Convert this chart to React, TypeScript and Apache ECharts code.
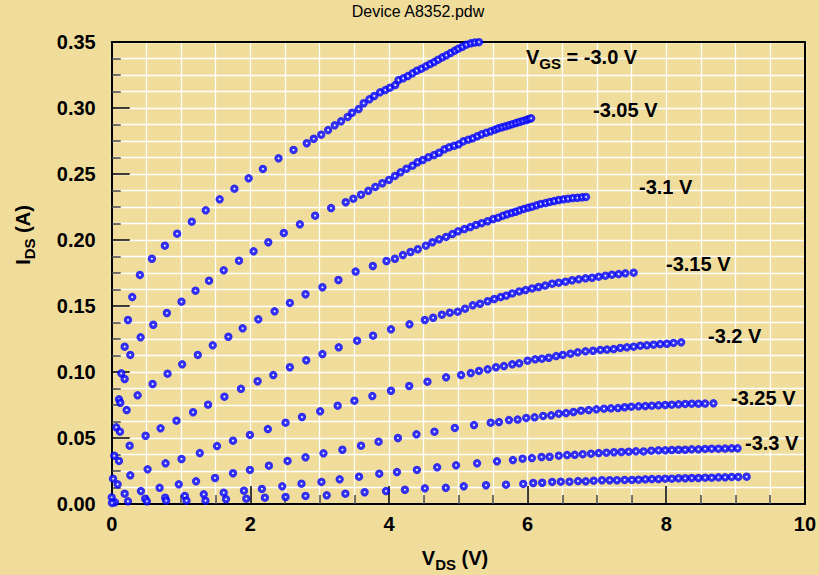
import React, { useEffect, useRef } from "react";
import * as echarts from "echarts";

// Each curve: [V_DS (V), I_DS (A)]
const curveVgs300: number[][] = [
  [0.187, 0.1192], [0.235, 0.1394], [0.296, 0.1568], [0.407, 0.1735], [0.58, 0.1858], [0.767, 0.1957],
  [0.944, 0.2048], [1.155, 0.2139], [1.357, 0.2225], [1.558, 0.2308], [1.77, 0.2389], [1.976, 0.2467],
  [2.181, 0.2538], [2.407, 0.2619], [2.623, 0.2682], [2.814, 0.2733], [2.915, 0.2767], [3.022, 0.2798],
  [3.122, 0.2833], [3.217, 0.2869], [3.309, 0.2899], [3.404, 0.2932], [3.468, 0.2964], [3.563, 0.2992],
  [3.635, 0.3036], [3.717, 0.3066], [3.788, 0.3091], [3.871, 0.3119], [3.947, 0.3136], [4.014, 0.3154],
  [4.091, 0.3174], [4.138, 0.3212], [4.206, 0.3225], [4.273, 0.3242], [4.34, 0.3263], [4.403, 0.3283],
  [4.469, 0.3298], [4.532, 0.3316], [4.594, 0.3333], [4.652, 0.3348], [4.709, 0.3366], [4.771, 0.3384],
  [4.829, 0.3399], [4.892, 0.3417], [4.95, 0.3434], [5.001, 0.3449], [5.059, 0.3464], [5.117, 0.348],
  [5.18, 0.349], [5.237, 0.3496], [5.299, 0.3499],
];
const curveVgs305: number[][] = [
  [0.138, 0.099], [0.187, 0.0947], [0.268, 0.1129], [0.417, 0.1263], [0.599, 0.1358], [0.796, 0.1447],
  [1.007, 0.1533], [1.209, 0.1616], [1.404, 0.1692], [1.616, 0.177], [1.836, 0.1843], [2.047, 0.1914],
  [2.259, 0.1983], [2.483, 0.2053], [2.715, 0.2119], [2.935, 0.2184], [3.165, 0.2242], [3.376, 0.2286],
  [3.486, 0.2313], [3.597, 0.2343], [3.702, 0.2373], [3.803, 0.2402], [3.904, 0.243], [4.0, 0.2455],
  [4.086, 0.2485], [4.167, 0.2513], [4.253, 0.254], [4.34, 0.2563], [4.412, 0.2589], [4.489, 0.2606],
  [4.57, 0.2627], [4.652, 0.2644], [4.724, 0.2661], [4.8, 0.2687], [4.868, 0.2702], [4.94, 0.2714],
  [5.007, 0.2725], [5.073, 0.2748], [5.145, 0.276], [5.209, 0.277], [5.275, 0.2786], [5.338, 0.2801],
  [5.404, 0.2813], [5.468, 0.2823], [5.529, 0.2836], [5.577, 0.2846], [5.63, 0.2854], [5.681, 0.2861],
  [5.731, 0.2869], [5.781, 0.2877], [5.832, 0.2886], [5.882, 0.2894], [5.932, 0.2902], [5.983, 0.2909],
  [6.019, 0.2917], [6.052, 0.2922],
];
const curveVgs310: number[][] = [
  [0.105, 0.0793], [0.124, 0.0767], [0.216, 0.0712], [0.374, 0.0823], [0.59, 0.0909], [0.806, 0.0987],
  [1.016, 0.1058], [1.242, 0.1129], [1.458, 0.1202], [1.683, 0.1267], [1.889, 0.1331], [2.115, 0.1399],
  [2.35, 0.146], [2.57, 0.1523], [2.796, 0.1589], [3.04, 0.1642], [3.271, 0.1697], [3.519, 0.1761],
  [3.767, 0.1803], [3.964, 0.1841], [4.086, 0.1858], [4.201, 0.1886], [4.311, 0.1909], [4.417, 0.193],
  [4.532, 0.1957], [4.627, 0.1983], [4.724, 0.2005], [4.824, 0.2023], [4.915, 0.2045], [4.997, 0.2066],
  [5.088, 0.2083], [5.174, 0.2098], [5.256, 0.2114], [5.338, 0.2127], [5.424, 0.2142], [5.505, 0.2159],
  [5.577, 0.2169], [5.645, 0.2184], [5.706, 0.2195], [5.77, 0.2205], [5.827, 0.2214], [5.885, 0.2225],
  [5.947, 0.2235], [6.009, 0.2245], [6.066, 0.2252], [6.129, 0.2263], [6.191, 0.2273], [6.259, 0.228],
  [6.321, 0.2288], [6.383, 0.2295], [6.45, 0.2303], [6.518, 0.2308], [6.584, 0.2313], [6.652, 0.2318],
  [6.719, 0.232], [6.786, 0.2323], [6.843, 0.2326],
];
const curveVgs315: number[][] = [
  [0.066, 0.0581], [0.119, 0.0548], [0.259, 0.0442], [0.489, 0.0517], [0.705, 0.0573], [0.935, 0.0631],
  [1.174, 0.0695], [1.39, 0.0752], [1.626, 0.0813], [1.865, 0.0873], [2.105, 0.093], [2.331, 0.0977],
  [2.57, 0.1036], [2.806, 0.1089], [3.04, 0.1136], [3.275, 0.1187], [3.54, 0.1237], [3.77, 0.1275],
  [4.029, 0.1323], [4.296, 0.1361], [4.518, 0.1394], [4.637, 0.1411], [4.763, 0.1434], [4.878, 0.1449],
  [4.993, 0.1457], [5.098, 0.148], [5.209, 0.1505], [5.314, 0.1517], [5.424, 0.1536], [5.519, 0.1553],
  [5.612, 0.1568], [5.692, 0.1578], [5.778, 0.1595], [5.879, 0.161], [5.971, 0.1621], [6.065, 0.1633],
  [6.158, 0.1644], [6.253, 0.1655], [6.354, 0.1669], [6.45, 0.1677], [6.547, 0.1684], [6.642, 0.1695],
  [6.738, 0.1702], [6.835, 0.171], [6.93, 0.1714], [7.026, 0.1722], [7.122, 0.173], [7.217, 0.1737],
  [7.314, 0.1742], [7.41, 0.1748], [7.53, 0.1752],
];
const curveVgs320: number[][] = [
  [0.037, 0.0366], [0.105, 0.0326], [0.268, 0.0217], [0.518, 0.0263], [0.777, 0.0308], [1.007, 0.0341],
  [1.271, 0.0386], [1.519, 0.0439], [1.75, 0.048], [1.994, 0.0523], [2.253, 0.0568], [2.508, 0.0616],
  [2.745, 0.0659], [3.007, 0.0702], [3.26, 0.0745], [3.501, 0.0783], [3.76, 0.0818], [4.029, 0.0858],
  [4.292, 0.0894], [4.555, 0.0927], [4.824, 0.096], [5.04, 0.0977], [5.18, 0.0992], [5.299, 0.1008],
  [5.424, 0.102], [5.544, 0.1036], [5.659, 0.1045], [5.778, 0.1058], [5.879, 0.1066], [6.0, 0.1086],
  [6.109, 0.1096], [6.206, 0.1101], [6.306, 0.1108], [6.412, 0.1121], [6.508, 0.1129], [6.619, 0.1139],
  [6.724, 0.1149], [6.835, 0.1157], [6.944, 0.1161], [7.05, 0.1167], [7.145, 0.117], [7.242, 0.1174],
  [7.338, 0.1182], [7.433, 0.1187], [7.529, 0.1192], [7.626, 0.1199], [7.721, 0.1202], [7.817, 0.1207],
  [7.914, 0.1212], [8.009, 0.1214], [8.105, 0.122], [8.216, 0.1225],
];
const curveVgs325: number[][] = [
  [0.019, 0.0192], [0.086, 0.0149], [0.187, 0.0078], [0.422, 0.0098], [0.691, 0.0123], [0.968, 0.0149],
  [1.217, 0.0172], [1.491, 0.0197], [1.75, 0.0233], [1.994, 0.0258], [2.268, 0.029], [2.537, 0.0326],
  [2.796, 0.0354], [3.055, 0.0384], [3.328, 0.0411], [3.597, 0.0442], [3.85, 0.0472], [4.129, 0.05],
  [4.397, 0.0528], [4.656, 0.0548], [4.95, 0.0576], [5.227, 0.0598], [5.468, 0.0616], [5.587, 0.0621],
  [5.731, 0.0636], [5.856, 0.064], [5.98, 0.0652], [6.101, 0.0657], [6.224, 0.0667], [6.34, 0.0672],
  [6.45, 0.0684], [6.555, 0.0689], [6.662, 0.0697], [6.771, 0.0707], [6.882, 0.0712], [6.993, 0.0717],
  [7.102, 0.0722], [7.203, 0.0725], [7.304, 0.0727], [7.4, 0.0733], [7.496, 0.0737], [7.601, 0.074],
  [7.698, 0.0742], [7.793, 0.0745], [7.889, 0.0748], [7.986, 0.075], [8.081, 0.0752], [8.177, 0.0755],
  [8.273, 0.0758], [8.368, 0.076], [8.465, 0.076], [8.561, 0.0761], [8.681, 0.0763],
];
const curveVgs330: number[][] = [
  [0.0, 0.0051], [0.047, 0.0013], [0.235, 0.002], [0.483, 0.004], [0.771, 0.0048], [1.055, 0.0061],
  [1.328, 0.0073], [1.616, 0.0086], [1.908, 0.0101], [2.167, 0.0114], [2.46, 0.0134], [2.738, 0.0154],
  [3.026, 0.0167], [3.289, 0.0187], [3.568, 0.0207], [3.86, 0.023], [4.115, 0.0242], [4.403, 0.0258],
  [4.695, 0.0278], [4.968, 0.0293], [5.271, 0.0308], [5.558, 0.0323], [5.788, 0.0333], [5.928, 0.0343],
  [6.062, 0.0348], [6.201, 0.0356], [6.317, 0.0358], [6.45, 0.0366], [6.57, 0.0371], [6.681, 0.0373],
  [6.796, 0.0377], [6.915, 0.0381], [7.026, 0.0386], [7.137, 0.0389], [7.246, 0.0392], [7.353, 0.0394],
  [7.458, 0.0396], [7.563, 0.0399], [7.673, 0.0398], [7.784, 0.0404], [7.889, 0.0407], [7.986, 0.0407],
  [8.081, 0.0409], [8.177, 0.0411], [8.273, 0.0411], [8.368, 0.0414], [8.465, 0.0414], [8.561, 0.0417],
  [8.656, 0.0419], [8.753, 0.0419], [8.849, 0.042], [8.944, 0.0422], [9.03, 0.0422],
];
const curveLowest: number[][] = [
  [0.004, 0.0008], [0.508, 0.002], [0.786, 0.0025], [1.079, 0.0025], [1.353, 0.0025], [1.649, 0.0036],
  [1.942, 0.004], [2.21, 0.0048], [2.508, 0.0053], [2.796, 0.0061], [3.102, 0.0066], [3.371, 0.0078],
  [3.649, 0.0089], [3.957, 0.0098], [4.23, 0.0108], [4.518, 0.0119], [4.82, 0.0123], [5.079, 0.0134],
  [5.4, 0.0142], [5.688, 0.0146], [5.937, 0.0152], [6.081, 0.0159], [6.21, 0.0161], [6.354, 0.0167],
  [6.479, 0.0169], [6.604, 0.0169], [6.728, 0.0174], [6.839, 0.0172], [6.954, 0.0177], [7.073, 0.018],
  [7.184, 0.018], [7.289, 0.018], [7.4, 0.0182], [7.505, 0.0182], [7.601, 0.0184], [7.698, 0.0187],
  [7.793, 0.0189], [7.889, 0.0189], [7.986, 0.0192], [8.081, 0.0192], [8.177, 0.0195], [8.273, 0.0195],
  [8.368, 0.0197], [8.465, 0.0197], [8.561, 0.0199], [8.656, 0.0199], [8.753, 0.0202], [8.849, 0.0202],
  [8.944, 0.0205], [9.04, 0.0205], [9.16, 0.0207],
];

const curves = [curveVgs300, curveVgs305, curveVgs310, curveVgs315, curveVgs320, curveVgs325, curveVgs330, curveLowest];
const curveNames = ["-3.0 V", "-3.05 V", "-3.1 V", "-3.15 V", "-3.2 V", "-3.25 V", "-3.3 V", "lowest"];
const curveLabels = ["-3.05 V", "-3.1 V", "-3.15 V", "-3.2 V", "-3.25 V", "-3.3 V"];

const titleText = "Device A8352.pdw";
const FONT = '"Liberation Sans", Arial, Helvetica, sans-serif';
const BG = "#F0DD9C";

export default function App() {
  const ref = useRef<HTMLDivElement>(null);
  useEffect(() => {
    if (!ref.current) return;
    const chart = echarts.init(ref.current, undefined, { renderer: "svg" });

    const labelPos = [
      [593, 110], [639, 187], [666, 264], [708, 336], [731, 398], [745, 443],
    ];
    const richMain = {
      m: { fontSize: 20, fontWeight: "bold", fontFamily: FONT, fill: "#000", lineHeight: 28 },
      s: { fontSize: 15, fontWeight: "bold", fontFamily: FONT, fill: "#000", lineHeight: 14, verticalAlign: "bottom" },
    };

    const graphic: any[] = [
      {
        type: "text",
        z: 100,
        x: 418,
        y: 11,
        style: { text: titleText, fontSize: 16, fontFamily: FONT, fill: "#000", align: "center", verticalAlign: "middle" },
      },
      {
        type: "text",
        z: 100,
        x: 526,
        y: 57,
        style: { text: "{m|V}{s|GS}{m| = -3.0 V}", rich: richMain, align: "left", verticalAlign: "middle" },
      },
      ...curveLabels.map((t, i) => ({
        type: "text",
        z: 100,
        x: labelPos[i][0],
        y: labelPos[i][1],
        style: { text: t, fontSize: 20, fontWeight: "bold", fontFamily: FONT, fill: "#000", align: "left", verticalAlign: "middle" },
      })),
      {
        type: "text",
        z: 100,
        x: 455,
        y: 558,
        style: { text: "{m|V}{s|DS}{m| (V)}", rich: richMain, align: "center", verticalAlign: "middle" },
      },
      {
        type: "text",
        z: 100,
        x: 23,
        y: 235,
        rotation: Math.PI / 2,
        style: { text: "{m|I}{s|DS}{m| (A)}", rich: richMain, align: "center", verticalAlign: "middle" },
      },
    ];

    const axisLabelStyle = { fontSize: 20, fontWeight: "bold" as const, fontFamily: FONT, color: "#000" };

    chart.setOption({
      animation: false,
      backgroundColor: BG,
      grid: { left: 111.7, right: 12.3, top: 42, bottom: 71, containLabel: false },
      xAxis: [
        {
          type: "value",
          min: 0,
          max: 10,
          interval: 2,
          axisLine: { show: true, onZero: false, lineStyle: { color: "#000", width: 2 } },
          axisTick: { show: true, inside: true, length: 18, lineStyle: { color: "#000", width: 1.5 } },
          minorTick: { show: true, splitNumber: 4, length: 9, lineStyle: { color: "#444", width: 1.5 } },
          splitLine: { show: true, lineStyle: { color: "#ffffff", width: 1.3 } },
          minorSplitLine: { show: true, lineStyle: { color: "#ffffff", width: 1.3 } },
          axisLabel: { ...axisLabelStyle, margin: 10 },
        },
        {
          type: "value",
          position: "top",
          min: 0,
          max: 10,
          interval: 2,
          axisLine: { show: true, onZero: false, lineStyle: { color: "#000", width: 2 } },
          axisTick: { show: false },
          axisLabel: { show: false },
          splitLine: { show: false },
        },
      ],
      yAxis: [
        {
          type: "value",
          min: 0,
          max: 0.35,
          interval: 0.05,
          axisLine: { show: true, onZero: false, lineStyle: { color: "#000", width: 2 } },
          axisTick: { show: true, inside: true, length: 18, lineStyle: { color: "#000", width: 1.5 } },
          minorTick: { show: true, splitNumber: 4, length: 9, lineStyle: { color: "#444", width: 1.5 } },
          splitLine: { show: true, lineStyle: { color: "#ffffff", width: 1.3 } },
          minorSplitLine: { show: true, lineStyle: { color: "#ffffff", width: 1.3 } },
          axisLabel: { ...axisLabelStyle, margin: 16, formatter: (v: number) => v.toFixed(2) },
        },
        {
          type: "value",
          position: "right",
          min: 0,
          max: 0.35,
          interval: 0.05,
          axisLine: { show: true, onZero: false, lineStyle: { color: "#000", width: 2 } },
          axisTick: { show: false },
          axisLabel: { show: false },
          splitLine: { show: false },
        },
      ],
      series: curves.map((d, i) => ({
        type: "scatter",
        name: curveNames[i],
        data: d,
        xAxisIndex: 0,
        yAxisIndex: 0,
        symbol: "circle",
        symbolSize: 5.2,
        clip: false,
        silent: true,
        itemStyle: { color: "#ffffff", borderColor: "#0000ff", borderWidth: 3.2 },
      })),
      graphic,
    });
    return () => chart.dispose();
  }, []);

  return (
    <div
      ref={ref}
      style={{ position: "fixed", left: 0, top: 0, width: 819, height: 575 }}
    />
  );
}
